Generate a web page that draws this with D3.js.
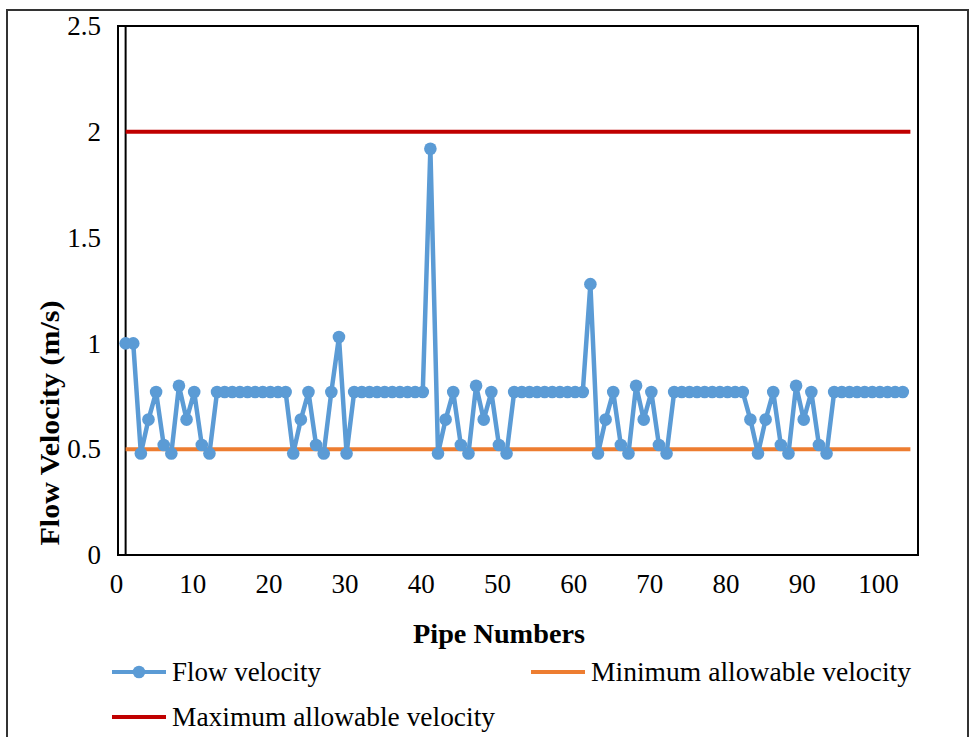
<!DOCTYPE html>
<html>
<head>
  <meta charset="utf-8">
  <title>Flow velocity per pipe</title>
  <script src="https://d3js.org/d3.v7.min.js"></script>
  <style>
    body { margin: 0; background: #fff; }
    text { font-family: "Liberation Serif", "Times New Roman", serif; fill: #000; }
  </style>
</head>
<body>
<svg width="970" height="737"></svg>
<script>
  // values, pipes 1..103
  const flowVelocity = [
    1.0, 1.0, 0.48, 0.64, 0.77, 0.52, 0.48, 0.8, 0.64, 0.77,
    0.52, 0.48, 0.77, 0.77, 0.77, 0.77, 0.77, 0.77, 0.77, 0.77,
    0.77, 0.77, 0.48, 0.64, 0.77, 0.52, 0.48, 0.77, 1.03, 0.48,
    0.77, 0.77, 0.77, 0.77, 0.77, 0.77, 0.77, 0.77, 0.77, 0.77,
    1.92, 0.48, 0.64, 0.77, 0.52, 0.48, 0.8, 0.64, 0.77, 0.52,
    0.48, 0.77, 0.77, 0.77, 0.77, 0.77, 0.77, 0.77, 0.77, 0.77,
    0.77, 1.28, 0.48, 0.64, 0.77, 0.52, 0.48, 0.8, 0.64, 0.77,
    0.52, 0.48, 0.77, 0.77, 0.77, 0.77, 0.77, 0.77, 0.77, 0.77,
    0.77, 0.77, 0.64, 0.48, 0.64, 0.77, 0.52, 0.48, 0.8, 0.64,
    0.77, 0.52, 0.48, 0.77, 0.77, 0.77, 0.77, 0.77, 0.77, 0.77,
    0.77, 0.77, 0.77
  ];
  const minVelocity = 0.5;
  const maxVelocity = 2;
  const limitRange = [1, 104];
  const xTicks = [0, 10, 20, 30, 40, 50, 60, 70, 80, 90, 100];
  const yTicks = [0, 0.5, 1, 1.5, 2, 2.5];

  const svg = d3.select("svg");
  const plotL = 118, plotR = 918, plotT = 26, plotB = 555;

  const x = d3.scaleLinear().domain([0, 105]).range([plotL, plotR]);
  const y = d3.scaleLinear().domain([0, 2.5]).range([plotB, plotT]);

  // outer frame
  svg.append("rect")
    .attr("x", 7).attr("y", 10).attr("width", 961).attr("height", 740)
    .attr("fill", "none").attr("stroke", "#333").attr("stroke-width", 2);

  // plot area box
  svg.append("rect")
    .attr("x", plotL).attr("y", plotT).attr("width", plotR - plotL).attr("height", plotB - plotT)
    .attr("fill", "none").attr("stroke", "#000").attr("stroke-width", 2);

  // vertical axis line crossing at pipe 1
  svg.append("line")
    .attr("x1", x(1)).attr("x2", x(1)).attr("y1", plotT).attr("y2", plotB)
    .attr("stroke", "#000").attr("stroke-width", 2);

  // tick labels
  const xAxis = svg.append("g").attr("transform", `translate(0,${plotB})`)
    .call(d3.axisBottom(x).tickValues(xTicks).tickSize(0).tickPadding(19));
  xAxis.select(".domain").remove();
  xAxis.selectAll("text").style("font-size", "27px").style("font-family", "Liberation Serif")
    .attr("dx", -2);

  const yAxis = svg.append("g").attr("transform", `translate(${plotL},0)`)
    .call(d3.axisLeft(y).tickValues(yTicks).tickFormat(d3.format("")).tickSize(0).tickPadding(17));
  yAxis.select(".domain").remove();
  yAxis.selectAll("text").style("font-size", "27px").style("font-family", "Liberation Serif");

  // limit lines
  const limit = d3.line().x(d => x(d[0])).y(d => y(d[1]));
  svg.append("path")
    .attr("d", limit(limitRange.map(p => [p, minVelocity])))
    .attr("stroke", "#ED7D31").attr("stroke-width", 4).attr("fill", "none");
  svg.append("path")
    .attr("d", limit(limitRange.map(p => [p, maxVelocity])))
    .attr("stroke", "#C00000").attr("stroke-width", 4).attr("fill", "none");

  // flow velocity series
  const line = d3.line().x((d, i) => x(i + 1)).y(d => y(d));
  svg.append("path")
    .attr("d", line(flowVelocity))
    .attr("stroke", "#5B9BD5").attr("stroke-width", 4.5).attr("fill", "none")
    .attr("stroke-linejoin", "round");
  svg.selectAll(".pt")
    .data(flowVelocity)
    .enter().append("circle")
    .attr("class", "pt")
    .attr("cx", (d, i) => x(i + 1))
    .attr("cy", d => y(d))
    .attr("r", 6.3)
    .attr("fill", "#5B9BD5");

  // axis titles
  svg.append("text")
    .attr("x", 499).attr("y", 643)
    .attr("text-anchor", "middle")
    .attr("textLength", 172).attr("lengthAdjust", "spacingAndGlyphs")
    .style("font-size", "27px").style("font-weight", "bold")
    .text("Pipe Numbers");
  svg.append("text")
    .attr("transform", "translate(59,423) rotate(-90)")
    .attr("text-anchor", "middle")
    .attr("textLength", 245).attr("lengthAdjust", "spacingAndGlyphs")
    .style("font-size", "28px").style("font-weight", "bold")
    .text("Flow Velocity (m/s)");

  // legend
  const legend = [
    { name: "Flow velocity", color: "#5B9BD5", marker: true, x: 112, y: 672, w: 149 },
    { name: "Minimum allowable velocity", color: "#ED7D31", marker: false, x: 531, y: 672, w: 320 },
    { name: "Maximum allowable velocity", color: "#C00000", marker: false, x: 112, y: 717, w: 323 }
  ];
  const lg = svg.selectAll(".lg").data(legend).enter().append("g")
    .attr("class", "lg")
    .attr("transform", d => `translate(${d.x},${d.y})`);
  lg.append("line")
    .attr("x1", 0).attr("x2", 54).attr("y1", 0).attr("y2", 0)
    .attr("stroke", d => d.color).attr("stroke-width", 4);
  lg.filter(d => d.marker).append("circle")
    .attr("cx", 27).attr("cy", 0).attr("r", 6.3).attr("fill", d => d.color);
  lg.append("text")
    .attr("x", 60).attr("y", 9)
    .attr("textLength", d => d.w).attr("lengthAdjust", "spacingAndGlyphs")
    .style("font-size", "27px")
    .text(d => d.name);
</script>
</body>
</html>
